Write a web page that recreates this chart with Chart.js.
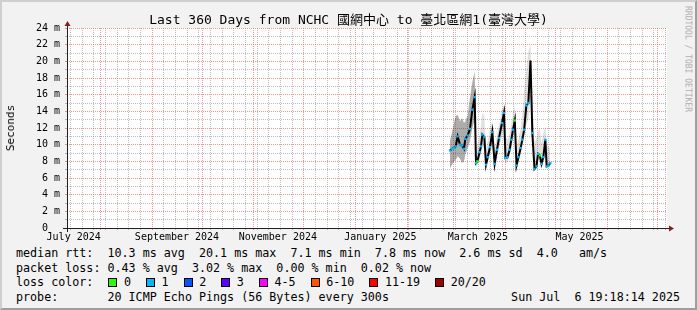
<!DOCTYPE html>
<html>
<head>
<meta charset="utf-8">
<title>Last 360 Days from NCHC</title>
<script src="https://cdn.jsdelivr.net/npm/chart.js@4.4.1/dist/chart.umd.min.js"></script>
<style>
    html, body { margin: 0; padding: 0; }
    body {
        width: 697px; height: 310px; overflow: hidden; position: relative;
        background: #f2f2f2;
        font-family: 'DejaVu Sans Mono', 'Noto Sans CJK TC', monospace;
        color: #000;
    }
    #frame {
        position: absolute; left: 0; top: 0; width: 697px; height: 310px;
        box-sizing: border-box; border: 2px solid;
        border-color: #cfcfcf #9e9e9e #9e9e9e #cfcfcf;
    }
    #chart { position: absolute; left: 0; top: 0; }
    #title {
        position: absolute; left: 0; top: 12px; width: 697px; text-align: center;
        font-size: 13px; line-height: 16px; white-space: pre;
    }
    #yTitle {
        position: absolute; left: 11px; top: 128px; font-size: 11px; line-height: 12px;
        transform: translate(-50%, -50%) rotate(-90deg); white-space: pre;
    }
    #watermark {
        position: absolute; left: 688px; top: 59px; font-size: 8px; line-height: 9px;
        color: #aaaaaa; transform: translate(-50%, -50%) rotate(90deg); white-space: pre;
    }
    .txt { position: absolute; left: 16px; white-space: pre; font-size: 11.7px; line-height: 15px; }
    .lossBox {
        display: inline-block; width: 7px; height: 7px; border: 1px solid #000;
        margin: 0 6.5px 0 1px; vertical-align: -1px;
    }
    #stamp { position: absolute; right: 17px; top: 289.5px; white-space: pre; font-size: 11.7px; line-height: 15px; }
</style>
</head>
<body>
<div id="frame"></div>
<canvas id="chart" width="697" height="245"></canvas>
<div id="title"></div>
<div id="yTitle">Seconds</div>
<div id="watermark">RRDTOOL / TOBI OETIKER</div>
<div class="txt" id="rttRow" style="top:245.5px"></div>
<div class="txt" id="lossStatRow" style="top:260.5px"></div>
<div class="txt" id="lossRow" style="top:275px"></div>
<div class="txt" id="probeRow" style="top:289.5px"></div>
<div id="stamp"></div>

<script>
// x values are days counted from 2024-07-01
const viewStart = 11.0;
const viewEnd = 371.0;

const monthLabels = ['July 2024', 'September 2024', 'November 2024', 'January 2025', 'March 2025', 'May 2025'];
const monthLabelDays = [15, 77, 137.5, 199, 257.5, 318.5];
const monthStartDays = [31, 62, 92, 123, 153, 184, 215, 243, 274, 304, 335, 365];
const firstSunday = 13;

const yTickValues = [0, 1, 2, 3, 4, 5, 6, 7, 8, 9, 10, 11, 12, 13, 14, 15, 16, 17, 18, 19, 20, 21, 22, 23, 24];
const yTickLabels = ['0  ', '2 m', '4 m', '6 m', '8 m', '10 m', '12 m', '14 m', '16 m', '18 m', '20 m', '22 m', '24 m'];

// median rtt samples (ms)
const sampleDays = [
    240.8, 242.0, 243.2, 244.2, 245.4, 246.8, 248.0, 249.2, 250.0, 251.4,
    252.8, 254.2, 255.6, 256.4, 257.2, 258.6, 259.4, 260.2, 261.4, 262.4,
    263.4, 264.8, 266.2, 267.6, 269.0, 270.2, 272.0, 273.2, 274.1, 275.3,
    276.6, 277.6, 278.6, 279.7, 280.7, 281.9, 283.2, 284.2, 285.3, 286.6,
    287.8, 289.1, 290.2, 291.5, 292.7, 293.6, 294.7, 295.7, 296.8, 298.0,
    298.8, 299.9, 301.0
];
const medianRtt = [
    9.3, 9.5, 9.6, 9.8, 11.0, 10.0, 9.9, 9.5, 10.7, 11.1,
    11.9, 14.2, 15.7, 7.8, 8.0, 9.1, 9.8, 11.2, 10.9, 7.6,
    8.5, 9.7, 11.5, 7.7, 9.4, 10.8, 12.6, 13.8, 8.4, 8.5,
    9.4, 10.6, 11.8, 12.9, 7.5, 8.5, 9.6, 10.6, 11.8, 14.7,
    15.0, 20.1, 11.4, 7.1, 7.4, 8.9, 8.7, 7.7, 8.5, 10.6,
    7.4, 7.5, 7.8
];
const smokeLow = [
    7.2, 7.6, 8.0, 8.2, 8.6, 8.3, 7.8, 8.0, 8.8, 9.6,
    10.4, 12.0, 13.0, 7.3, 7.5, 8.2, 9.0, 9.8, 9.5, 7.2,
    7.8, 8.6, 9.8, 7.3, 8.4, 9.6, 11.0, 12.2, 7.8, 7.9,
    8.6, 9.6, 10.6, 11.6, 7.1, 7.9, 8.8, 9.8, 10.8, 12.4,
    13.0, 15.5, 10.0, 6.9, 7.1, 8.0, 8.2, 7.3, 7.8, 8.8,
    7.1, 7.2, 7.4
];
const smokeHigh = [
    10.5, 11.5, 12.6, 13.4, 13.6, 12.8, 13.2, 12.6, 12.8, 13.5,
    15.6, 17.5, 18.8, 9.5, 9.8, 11.2, 12.4, 13.8, 13.4, 9.6,
    10.4, 11.8, 13.0, 9.4, 11.2, 12.4, 14.2, 14.8, 11.0, 10.6,
    11.4, 12.6, 13.8, 14.6, 9.6, 10.8, 12.0, 13.6, 16.4, 19.0,
    21.2, 22.0, 16.0, 10.2, 10.8, 11.6, 12.0, 10.2, 11.4, 12.2,
    10.0, 9.8, 9.6
];
// lost pings per sample, null = no loss marker
const lossCount = [
    1, 1, 1, 1, 1, 1, 1, 1, 1, 1,
    1, 1, 1, 1, 0, 1, 1, 1, 1, 1,
    1, 1, 1, 1, 1, 1, 1, 1, 1, 1,
    1, 1, 1, 0, 1, 1, 1, 1, 1, 1,
    1, null, 1, 1, 1, 1, 0, 1, 1, 1,
    1, 1, 1
];

const lossLegendLabels = ['0', '1', '2', '3', '4-5', '6-10', '11-19', '20/20'];
const lossLegendColors = ['#26ff00', '#00b8ff', '#0059ff', '#5e00ff', '#ff00ff', '#ff5500', '#ff0000', '#a10000'];
const lossLegendMax = [0, 1, 2, 3, 5, 10, 19, 20];

const chartTitle = 'Last 360 Days from NCHC 國網中心 to 臺北區網1(臺灣大學)';
const rttStats = ['10.3 ms avg', '20.1 ms max', '7.1 ms min', '7.8 ms now', '2.6 ms sd', '4.0   am/s'];
const lossStats = ['0.43 % avg', '3.02 % max', '0.00 % min', '0.02 % now'];
const probeText = '20 ICMP Echo Pings (56 Bytes) every 300s';
const stampText = 'Sun Jul  6 19:18:14 2025';

const MINOR_GRID = 'rgba(143, 143, 143, 0.6)';
const MAJOR_GRID = 'rgba(222, 79, 79, 0.6)';

document.addEventListener('DOMContentLoaded', () => {
    fillTexts();
    buildLossLegend();
    buildChart();
});

function fillTexts() {
    document.getElementById('title').textContent = chartTitle;
    document.getElementById('rttRow').textContent = 'median rtt:  ' + rttStats.join('  ');
    document.getElementById('lossStatRow').textContent = 'packet loss: ' + lossStats.join('  ');
    document.getElementById('probeRow').textContent = 'probe:       ' + probeText;
    document.getElementById('stamp').textContent = stampText;
}

function buildLossLegend() {
    const row = document.getElementById('lossRow');
    row.textContent = 'loss color:  ';
    lossLegendLabels.forEach((label, i) => {
        const box = document.createElement('span');
        box.className = 'lossBox';
        box.style.background = lossLegendColors[i];
        row.appendChild(box);
        row.appendChild(document.createTextNode(label + '  '));
    });
}

function lossColorFor(n) {
    for (let i = 0; i < lossLegendMax.length; i++) {
        if (n <= lossLegendMax[i]) return lossLegendColors[i];
    }
    return lossLegendColors[lossLegendColors.length - 1];
}

function buildTimeTicks() {
    const ticks = [];
    for (let d = firstSunday; d <= viewEnd; d += 7) {
        if (!monthStartDays.includes(d)) ticks.push({ value: d, kind: 'minor' });
    }
    monthStartDays.forEach(d => ticks.push({ value: d, kind: 'major' }));
    monthLabelDays.forEach((d, i) => ticks.push({ value: d, kind: 'label', text: monthLabels[i] }));
    return ticks.sort((a, b) => a.value - b.value);
}

function timeGridColor(c) {
    if (!c.tick) return MINOR_GRID;
    if (c.tick.kind === 'label') return 'rgba(0,0,0,0)';
    return c.tick.kind === 'major' ? MAJOR_GRID : MINOR_GRID;
}

// white plot area, like the rrdtool canvas
const plotBackground = {
    id: 'plotBackground',
    beforeDraw(chart) {
        const { ctx, chartArea: a } = chart;
        ctx.save();
        ctx.fillStyle = '#ffffff';
        ctx.fillRect(a.left, a.top, a.right - a.left, a.bottom - a.top);
        ctx.restore();
    }
};

// axis lines with the small rrdtool arrows
const axisArrows = {
    id: 'axisArrows',
    afterDraw(chart) {
        const { ctx, chartArea: a } = chart;
        const x0 = a.left + 0.5;
        const y0 = a.bottom + 0.5;
        ctx.save();
        ctx.strokeStyle = '#1f1f1f';
        ctx.lineWidth = 1;
        ctx.beginPath();
        ctx.moveTo(a.left - 4, y0);
        ctx.lineTo(a.right + 4, y0);
        ctx.moveTo(x0, a.bottom + 4);
        ctx.lineTo(x0, a.top - 4);
        ctx.stroke();

        ctx.fillStyle = '#801f1f';
        ctx.beginPath();
        ctx.moveTo(a.right + 2, y0 - 3);
        ctx.lineTo(a.right + 2, y0 + 3);
        ctx.lineTo(a.right + 7, y0);
        ctx.closePath();
        ctx.fill();
        ctx.beginPath();
        ctx.moveTo(x0 - 3, a.top - 2);
        ctx.lineTo(x0 + 3, a.top - 2);
        ctx.lineTo(x0, a.top - 7);
        ctx.closePath();
        ctx.fill();
        ctx.restore();
    }
};

function buildChart() {
    const ctx = document.getElementById('chart').getContext('2d');
    const tickFont = { family: "'DejaVu Sans Mono', monospace", size: 10 };

    new Chart(ctx, {
        type: 'line',
        data: {
            datasets: [
                {
                    label: 'median rtt',
                    data: sampleDays.map((d, i) => ({ x: d, y: medianRtt[i] })),
                    borderColor: '#000000',
                    borderWidth: 2,
                    tension: 0,
                    fill: false,
                    pointStyle: 'rect',
                    pointBorderWidth: 0,
                    pointRadius: c => (lossCount[c.dataIndex] == null ? 0 : 1.6),
                    pointBackgroundColor: c => lossColorFor(lossCount[c.dataIndex])
                },
                {
                    label: 'smoke low',
                    data: sampleDays.map((d, i) => ({ x: d, y: smokeLow[i] })),
                    borderColor: 'transparent',
                    borderWidth: 0,
                    pointRadius: 0,
                    fill: false
                },
                {
                    label: 'smoke high',
                    data: sampleDays.map((d, i) => ({ x: d, y: smokeHigh[i] })),
                    borderColor: 'transparent',
                    borderWidth: 0,
                    pointRadius: 0,
                    backgroundColor: 'rgba(0, 0, 0, 0.12)',
                    fill: 1,
                    segment: {
                        backgroundColor: c => (c.p0.parsed.x < 256 ? 'rgba(50, 50, 50, 0.4)' : 'rgba(0, 0, 0, 0.12)')
                    }
                }
            ]
        },
        options: {
            responsive: false,
            animation: false,
            events: [],
            layout: { padding: { left: 0, top: 28, right: 30, bottom: 0 } },
            plugins: {
                legend: { display: false },
                tooltip: { enabled: false }
            },
            scales: {
                x: {
                    type: 'linear',
                    min: viewStart,
                    max: viewEnd,
                    afterFit: s => { s.height = 17; },
                    afterBuildTicks: s => { s.ticks = buildTimeTicks(); },
                    ticks: {
                        autoSkip: false,
                        maxRotation: 0,
                        minRotation: 0,
                        padding: 1,
                        color: '#000000',
                        font: tickFont,
                        callback: (v, i, ticks) => ticks[i].text || ''
                    },
                    grid: { color: timeGridColor, tickLength: 2 },
                    border: { display: false, dash: [1, 1] }
                },
                y: {
                    type: 'linear',
                    min: 0,
                    max: 24,
                    afterFit: s => { s.width = 67; },
                    afterBuildTicks: s => { s.ticks = yTickValues.map(v => ({ value: v })); },
                    ticks: {
                        autoSkip: false,
                        padding: 5,
                        color: '#000000',
                        font: tickFont,
                        callback: v => (v % 2 === 0 ? yTickLabels[v / 2] : '')
                    },
                    grid: {
                        color: c => (c.tick && c.tick.value % 2 === 0 ? MAJOR_GRID : MINOR_GRID),
                        tickLength: 2
                    },
                    border: { display: false, dash: [1, 1] }
                }
            }
        },
        plugins: [plotBackground, axisArrows]
    });
}
</script>
</body>
</html>
